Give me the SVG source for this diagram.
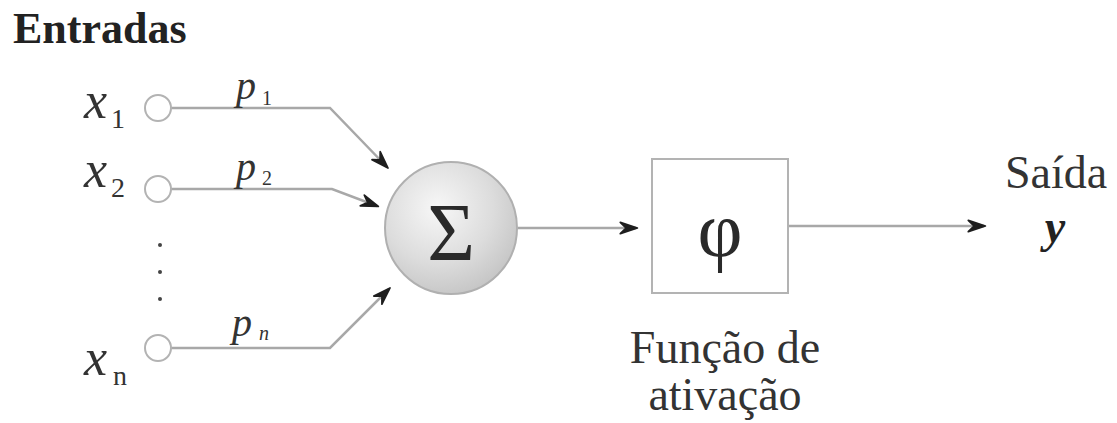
<svg xmlns="http://www.w3.org/2000/svg" width="1117" height="423" viewBox="0 0 1117 423">
  <style>
    text { font-family: "Liberation Serif", "Times New Roman", serif; fill: #333; }
    .var { font-style: italic; font-size: 52px; }
    .sub { font-size: 28px; }
    .w { font-style: italic; font-size: 40px; }
    .wsub { font-size: 20px; }
    .label { font-size: 46px; }
    .wire { fill: none; stroke: #a8a8a8; stroke-width: 2.5; }
    .port { fill: #fff; stroke: #b3b3b3; stroke-width: 2; }
  </style>
  <defs>
    <marker id="arrow" viewBox="-1 -1 14 10" refX="11" refY="4" markerWidth="20" markerHeight="14.3" markerUnits="userSpaceOnUse" orient="auto">
      <path d="M0,0 L12,4 L0,8 L4,4 z" fill="#1e1e1e" stroke="#1e1e1e" stroke-width="1.2" stroke-linejoin="round"/>
    </marker>
    <radialGradient id="sumFill" cx="0.4" cy="0.35" r="0.7">
      <stop offset="0" stop-color="#f7f7f7"/>
      <stop offset="0.6" stop-color="#dcdcdc"/>
      <stop offset="1" stop-color="#c4c4c4"/>
    </radialGradient>
  </defs>
  <rect width="1117" height="423" fill="#fff"/>

  <text x="13" y="43" font-size="44" font-weight="bold" style="fill:#222">Entradas</text>

  <!-- connectors -->
  <g id="connectors">
    <path class="wire" d="M171,108 H330 L387,167" marker-end="url(#arrow)"/>
    <path class="wire" d="M171,189 H332 L377,206" marker-end="url(#arrow)"/>
    <path class="wire" d="M171,348 H330 L389,289" marker-end="url(#arrow)"/>
    <path class="wire" d="M518,228 H636" marker-end="url(#arrow)"/>
    <path class="wire" d="M788,226 H984" marker-end="url(#arrow)"/>
  </g>

  <!-- inputs -->
  <g id="input-x1">
    <circle class="port" cx="158" cy="108" r="13"/>
    <text class="var" x="84" y="118">x</text>
    <text class="sub" x="111" y="128">1</text>
    <text class="w" x="236" y="99">p</text>
    <text class="wsub" x="262" y="105">1</text>
  </g>
  <g id="input-x2">
    <circle class="port" cx="158" cy="189" r="13"/>
    <text class="var" x="84" y="187">x</text>
    <text class="sub" x="111" y="197">2</text>
    <text class="w" x="236" y="180">p</text>
    <text class="wsub" x="262" y="185">2</text>
  </g>
  <g id="ellipsis" fill="#444">
    <circle cx="160" cy="245" r="2"/>
    <circle cx="160" cy="272" r="2"/>
    <circle cx="160" cy="299" r="2"/>
  </g>
  <g id="input-xn">
    <circle class="port" cx="158" cy="348" r="13"/>
    <text class="var" x="84" y="375">x</text>
    <text class="sub" x="113" y="385">n</text>
    <text class="w" x="232" y="336">p</text>
    <text class="wsub" x="259" y="340" font-style="italic">n</text>
  </g>

  <!-- summing junction -->
  <g id="sum">
    <circle cx="451" cy="228" r="66" fill="url(#sumFill)" stroke="#b0b0b0" stroke-width="2"/>
    <text x="451" y="260" font-size="82" text-anchor="middle" style="fill:#2a2a2a">Σ</text>
  </g>

  <!-- activation function -->
  <g id="activation">
    <rect x="652" y="159" width="136" height="134" fill="#fff" stroke="#b3b3b3" stroke-width="2"/>
    <text x="720" y="256" font-size="78" text-anchor="middle" style="fill:#2a2a2a">φ</text>
    <text class="label" x="725" y="363" text-anchor="middle">Função de</text>
    <text class="label" x="725" y="410" text-anchor="middle">ativação</text>
  </g>

  <!-- output -->
  <g id="output">
    <text class="label" x="1056" y="188" text-anchor="middle">Saída</text>
    <text x="1055" y="242" font-size="46" font-style="italic" font-weight="bold" text-anchor="middle" style="fill:#222">y</text>
  </g>
</svg>
